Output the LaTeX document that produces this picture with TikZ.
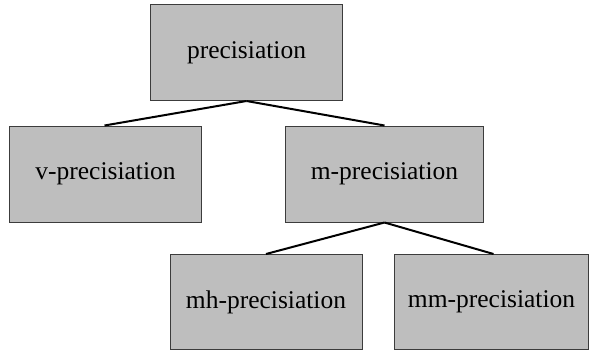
\documentclass[tikz,border=0pt]{standalone}
\usepackage{fontspec}
\setmainfont{Liberation Serif}
\definecolor{boxfill}{RGB}{190,190,190}
\definecolor{boxline}{RGB}{60,60,60}
\begin{document}
\begin{tikzpicture}[x=1pt,y=-1pt,
  termbox/.style={draw=boxline, line width=1pt, fill=boxfill, inner sep=0pt,
    font=\fontsize{25.5}{28}\selectfont, anchor=north west},
  branch/.style={line width=2pt, black}]
  \useasboundingbox (0,0) rectangle (593,353);
  \node[termbox, minimum width=192pt, minimum height=96pt] (root) at (150,4) {precisiation};
  \node[termbox, minimum width=192pt, minimum height=96pt] (v) at (9,125.5) {v-precisiation};
  \node[termbox, minimum width=198pt, minimum height=96pt] (m) at (285,125.5) {m-precisiation};
  \node[termbox, minimum width=192pt, minimum height=95pt] (mh) at (169.5,254) {mh-precisiation};
  \node[termbox, minimum width=194pt, minimum height=95pt] (mm) at (394,254) {mm-precisiation};
  \draw[branch] (root.south) -- ([xshift=-1pt]v.north);
  \draw[branch] (root.south) -- (m.north);
  \draw[branch] (m.south) -- ([xshift=0pt]mh.north);
  \draw[branch] (m.south) -- ([xshift=2pt]mm.north);
\end{tikzpicture}
\end{document}
